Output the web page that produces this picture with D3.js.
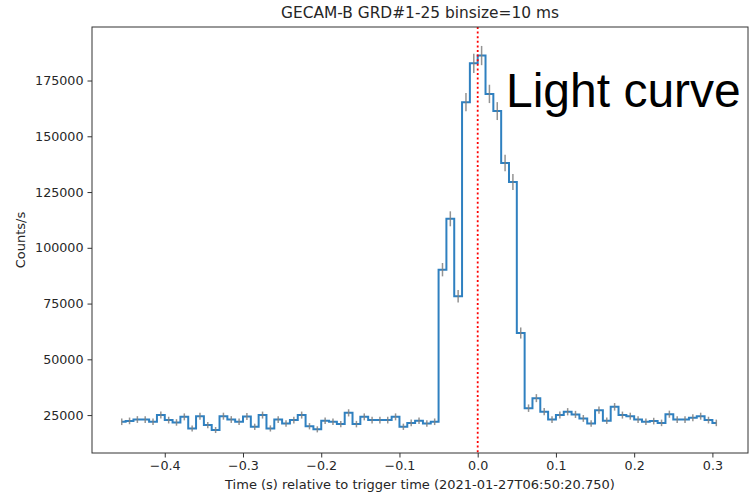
<!DOCTYPE html>
<html>
<head>
<meta charset="utf-8">
<script src="https://cdn.jsdelivr.net/npm/d3@7"></script>
<style>
  html, body { margin: 0; padding: 0; background: #fff; }
  svg { display: block; }
</style>
</head>
<body>
<svg id="chart" width="752" height="495"></svg>
<script>
// ---- data ----
const title = "GECAM-B GRD#1-25 binsize=10 ms";
const xLabel = "Time (s) relative to trigger time (2021-01-27T06:50:20.750)";
const yLabel = "Counts/s";
const annotation = "Light curve";

// bin centres (s)
const times = [
  -0.455, -0.445, -0.435, -0.425, -0.415, -0.405, -0.395, -0.385, -0.375, -0.365,
  -0.355, -0.345, -0.335, -0.325, -0.315, -0.305, -0.295, -0.285, -0.275, -0.265,
  -0.255, -0.245, -0.235, -0.225, -0.215, -0.205, -0.195, -0.185, -0.175, -0.165,
  -0.155, -0.145, -0.135, -0.125, -0.115, -0.105, -0.095, -0.085, -0.075, -0.065,
  -0.055, -0.045, -0.035, -0.025, -0.015, -0.005, 0.005, 0.015, 0.025, 0.035,
  0.045, 0.055, 0.065, 0.075, 0.085, 0.095, 0.105, 0.115, 0.125, 0.135,
  0.145, 0.155, 0.165, 0.175, 0.185, 0.195, 0.205, 0.215, 0.225, 0.235,
  0.245, 0.255, 0.265, 0.275, 0.285, 0.295, 0.305
];

// count rate (counts/s)
const rates = [
  22000, 22400, 23000, 23000, 22000, 25000, 22750, 21700, 24200, 19000,
  24500, 20500, 18300, 24500, 23000, 22000, 24400, 19750, 25000, 19000,
  23000, 21250, 22750, 25000, 20000, 18600, 22450, 22000, 20950, 26000,
  20950, 24200, 22750, 22750, 22750, 24200, 19750, 21500, 22450, 21250,
  22000, 90200, 113000, 78300, 165300, 182700, 186200, 169000, 161300, 138000,
  129500, 61800, 28100, 32600, 26500, 23000, 25000, 26500, 25300, 23500,
  21250, 27200, 22450, 28700, 25000, 24500, 23000, 22000, 22300, 21500,
  25400, 23000, 23000, 23800, 24500, 22750, 21500
];

// 1-sigma errors (counts/s)
const errors = [
  1480, 1500, 1520, 1520, 1480, 1580, 1510, 1470, 1560, 1380,
  1570, 1430, 1350, 1570, 1520, 1480, 1560, 1410, 1580, 1380,
  1520, 1460, 1510, 1580, 1410, 1360, 1500, 1480, 1450, 1610,
  1450, 1560, 1510, 1510, 1510, 1560, 1410, 1470, 1500, 1460,
  1480, 3000, 3360, 2800, 4070, 4270, 4310, 4110, 4020, 3710,
  3600, 2490, 1680, 1800, 1630, 1520, 1580, 1630, 1590, 1530,
  1460, 1650, 1500, 1690, 1580, 1570, 1520, 1480, 1490, 1470,
  1590, 1520, 1520, 1540, 1570, 1510, 1470
];

const xTicks = [-0.4, -0.3, -0.2, -0.1, 0.0, 0.1, 0.2, 0.3];
const yTicks = [25000, 50000, 75000, 100000, 125000, 150000, 175000];
const triggerTime = 0.0;

// ---- layout ----
const svg = d3.select("#chart");
const L = 92, R = 748, T = 27, B = 453;
const textFont = "'DejaVu Sans', sans-serif";
const textColor = "#262626";

const x = d3.scaleLinear().domain([-0.493, 0.3455]).range([L, R]);
const y = d3.scaleLinear().domain([8000, 199000]).range([B, T]);

svg.append("rect").attr("width", 752).attr("height", 495).attr("fill", "#fff");

const data = times.map((t, i) => ({ t, v: rates[i], e: errors[i] }));

// step line (mid)
const line = d3.line().x(d => x(d.t)).y(d => y(d.v)).curve(d3.curveStep);
svg.append("path")
  .datum(data)
  .attr("d", line)
  .attr("fill", "none")
  .attr("stroke", "#2f80c0")
  .attr("stroke-width", 2)
  .attr("stroke-linejoin", "miter");

// error bars
svg.append("g").selectAll("line").data(data).join("line")
  .attr("x1", d => x(d.t)).attr("x2", d => x(d.t))
  .attr("y1", d => y(d.v - d.e)).attr("y2", d => y(d.v + d.e))
  .attr("stroke", "#808080")
  .attr("stroke-opacity", 0.85)
  .attr("stroke-width", 1.5);

// trigger line
svg.append("line")
  .attr("x1", x(triggerTime)).attr("x2", x(triggerTime))
  .attr("y1", T).attr("y2", B)
  .attr("stroke", "#ff0000")
  .attr("stroke-width", 1.8)
  .attr("stroke-dasharray", "2,2.6");

// frame
svg.append("rect")
  .attr("x", L).attr("y", T).attr("width", R - L).attr("height", B - T)
  .attr("fill", "none").attr("stroke", "#333").attr("stroke-width", 1);

// axes
const fmtX = d => (d < 0 ? "\u2212" : "") + Math.abs(d).toFixed(1);
const xAxis = d3.axisBottom(x).tickValues(xTicks).tickFormat(fmtX).tickSize(4.5).tickPadding(3.5);
const yAxis = d3.axisLeft(y).tickValues(yTicks).tickFormat(d3.format("d")).tickSize(4.5).tickPadding(4);

const gx = svg.append("g").attr("transform", `translate(0,${B})`).call(xAxis);
const gy = svg.append("g").attr("transform", `translate(${L},0)`).call(yAxis);
[gx, gy].forEach(g => {
  g.select(".domain").remove();
  g.selectAll(".tick line").attr("stroke", "#333").attr("stroke-width", 1);
  g.selectAll(".tick text")
    .attr("fill", textColor)
    .style("font-family", textFont)
    .style("font-size", "12.7px");
});

// labels
svg.append("text")
  .attr("x", (L + R) / 2).attr("y", 18)
  .attr("text-anchor", "middle")
  .attr("fill", textColor)
  .style("font-family", textFont).style("font-size", "15.4px")
  .text(title);

svg.append("text")
  .attr("x", (L + R) / 2).attr("y", 489)
  .attr("text-anchor", "middle")
  .attr("fill", textColor)
  .style("font-family", textFont).style("font-size", "13px")
  .text(xLabel);

svg.append("text")
  .attr("transform", `translate(25,${(T + B) / 2}) rotate(-90)`)
  .attr("text-anchor", "middle")
  .attr("fill", textColor)
  .style("font-family", textFont).style("font-size", "13px")
  .text(yLabel);

svg.append("text")
  .attr("x", 506).attr("y", 107)
  .attr("fill", "#000")
  .style("font-family", "'Liberation Sans', Arial, sans-serif")
  .style("font-size", "48px")
  .text(annotation);
</script>
</body>
</html>
